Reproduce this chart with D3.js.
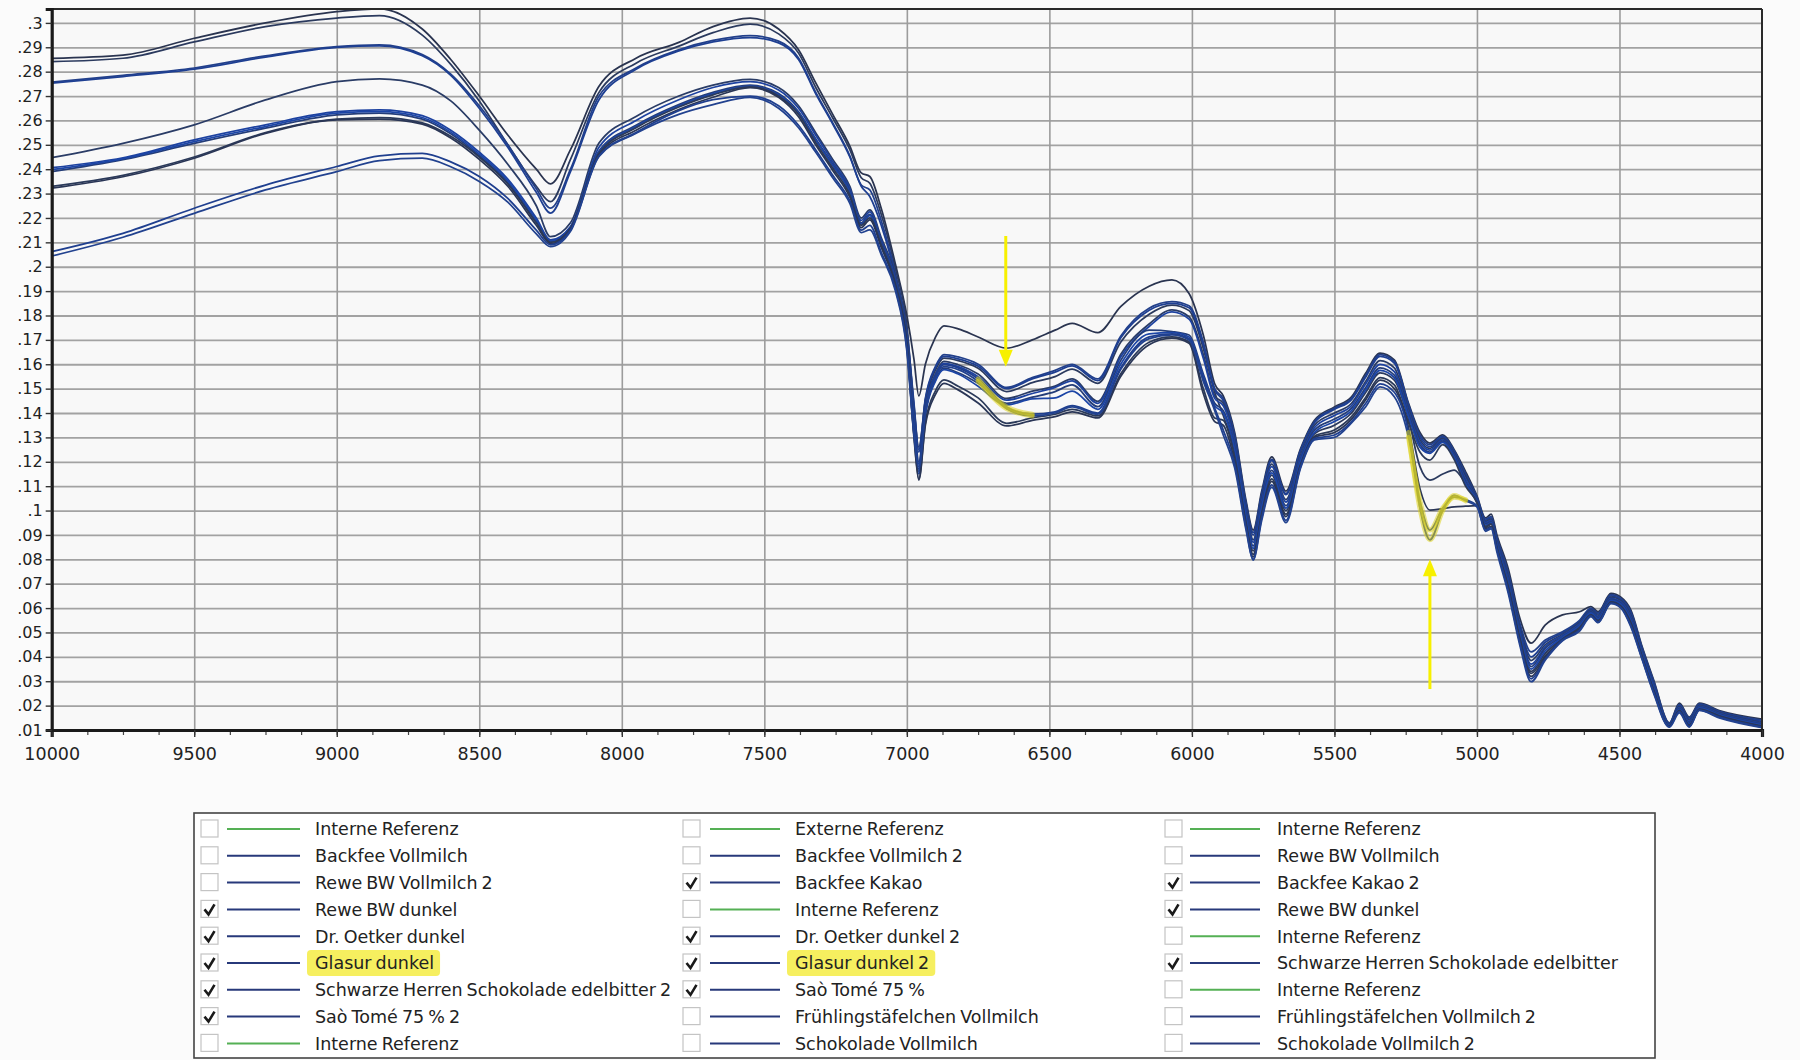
<!DOCTYPE html>
<html><head><meta charset="utf-8">
<script src="https://cdn.jsdelivr.net/npm/d3@7"></script>
<style>
html,body{margin:0;padding:0;background:#fbfbfb;}
svg{display:block;font-family:"DejaVu Sans",Verdana,sans-serif;}
</style></head><body>
<svg id="chart" width="1800" height="1060"></svg>
<script>
// ---------- DATA ----------
const wavenumbers = [10000,9750,9500,9250,9000,8850,8700,8600,8500,8400,8300,8250,8180,8080,
 7950,7800,7680,7550,7450,7380,7320,7260,7200,7160,7130,7090,7040,7000,
 6975,6958,6935,6900,6870,6820,6750,6650,6560,6480,6420,6330,6250,6150,6070,6010,5960,5920,
 5890,5850,5810,5785,5755,5720,5670,5620,5570,5500,5440,5390,5340,5290,5240,
 5200,5165,5120,5080,5040,5000,4970,4950,4930,
 4890,4850,4810,4760,4700,4640,4600,4575,4530,4495,4460,4420,4380,4325,4290,4255,4220,4150,4000];

const backfeeKakao = [.2855,.2868,.2937,.3000,.3046,.3058,.2975,.2850,.2700,.2540,.2400,.2340,.2480,.2740,
 .2855,.2920,.2985,.3020,.2975,.2890,.2755,.2625,.2495,.2385,.2370,.2240,.2010,.1800,
 .1620,.1470,.1600,.1710,.1757,.1745,.1712,.1666,.1700,.1740,.1768,.1730,.1836,.1920,.1946,.1890,.1720,.1520,
 .1470,.1320,.1040,.0920,.1080,.1220,.1080,.1250,.1370,.1425,.1466,.1564,.1646,.1618,.1440,
 .1320,.1277,.1310,.1250,.1160,.1060,.0970,.0985,.0900,
 .0760,.0560,.0456,.0531,.0572,.0585,.0606,.0585,.0660,.0645,.0592,.0440,.0305,.0129,.0210,.0153,.0210,.0180,.0145];

const backfeeKakao2 = [.2841,.2855,.2922,.2985,.3020,.3030,.2950,.2830,.2680,.2500,.2330,.2267,.2440,.2715,
 .2835,.2905,.2960,.2995,.2955,.2876,.2736,.2610,.2480,.2365,.2342,.2215,.1990,.1760,
 .1420,.1260,.1450,.1575,.1625,.1615,.1584,.1488,.1525,.1549,.1580,.1522,.1690,.1805,.1843,.1820,.1665,.1485,
 .1390,.1240,.0965,.0835,.1005,.1145,.1000,.1195,.1315,.1350,.1400,.1485,.1565,.1535,.1375,
 .1180,.1125,.1150,.1166,.1110,.1030,.0930,.0945,.0855,
 .0695,.0490,.0340,.0415,.0476,.0525,.0576,.0552,.0628,.0612,.0545,.0405,.0270,.0118,.0182,.0122,.0188,.0160,.0118];

const schwarzeHerren = [.2757,.2785,.2815,.2865,.2903,.2910,.2870,.2790,.2660,.2500,.2320,.2240,.2400,.2700,
 .2815,.2890,.2928,.2948,.2925,.2856,.2716,.2590,.2455,.2335,.2315,.2190,.1970,.1740,
 .1440,.1250,.1460,.1590,.1640,.1630,.1600,.1505,.1545,.1575,.1600,.1540,.1715,.1830,.1857,.1840,.1690,.1500,
 .1460,.1310,.1030,.0910,.1070,.1210,.1070,.1245,.1365,.1420,.1460,.1555,.1640,.1612,.1435,
 .1310,.1270,.1305,.1245,.1150,.1055,.0965,.0975,.0890,
 .0745,.0540,.0420,.0469,.0503,.0550,.0600,.0580,.0655,.0640,.0585,.0435,.0300,.0127,.0205,.0150,.0207,.0177,.0140];

const schwarzeHerren2 = [.2753,.2780,.2810,.2860,.2900,.2906,.2865,.2785,.2650,.2490,.2305,.2220,.2390,.2685,
 .2810,.2885,.2922,.2940,.2918,.2850,.2710,.2585,.2450,.2330,.2288,.2170,.1960,.1730,
 .1430,.1240,.1455,.1585,.1632,.1622,.1592,.1500,.1540,.1568,.1593,.1533,.1708,.1822,.1850,.1832,.1680,.1495,
 .1450,.1300,.1020,.0900,.1065,.1205,.1065,.1240,.1360,.1415,.1455,.1548,.1632,.1605,.1430,
 .1300,.1262,.1300,.1240,.1145,.1050,.0960,.0970,.0880,
 .0735,.0530,.0400,.0460,.0498,.0545,.0596,.0575,.0650,.0635,.0578,.0430,.0295,.0125,.0200,.0145,.0203,.0174,.0135];

const saoTome = [.2447,.2506,.2582,.2684,.2759,.2770,.2745,.2680,.2560,.2420,.2250,.2123,.2180,.2507,
 .2616,.2700,.2745,.2768,.2735,.2660,.2550,.2440,.2330,.2200,.2233,.2120,.1960,.1720,
 .1400,.1200,.1430,.1560,.1612,.1598,.1560,.1460,.1490,.1510,.1540,.1448,.1640,.1765,.1823,.1795,.1640,.1470,
 .1440,.1290,.1010,.0880,.1050,.1190,.1045,.1225,.1350,.1400,.1440,.1530,.1615,.1585,.1415,
 .1290,.1255,.1295,.1235,.1140,.1048,.0955,.0965,.0875,
 .0725,.0520,.0385,.0450,.0492,.0540,.0592,.0570,.0645,.0630,.0570,.0425,.0290,.0123,.0196,.0140,.0200,.0171,.0130];

const saoTome2 = [.2406,.2447,.2520,.2582,.2636,.2643,.2620,.2560,.2470,.2360,.2200,.2110,.2165,.2490,
 .2600,.2685,.2735,.2759,.2725,.2650,.2540,.2430,.2320,.2190,.2225,.2110,.1950,.1710,
 .1380,.1190,.1420,.1555,.1604,.1590,.1549,.1453,.1480,.1505,.1532,.1440,.1630,.1755,.1815,.1785,.1625,.1460,
 .1430,.1280,.1000,.0870,.1040,.1180,.1035,.1215,.1340,.1390,.1430,.1520,.1600,.1570,.1405,
 .1280,.1248,.1290,.1230,.1130,.1045,.0950,.0960,.0870,
 .0715,.0510,.0370,.0442,.0488,.0535,.0588,.0565,.0640,.0625,.0563,.0420,.0285,.0121,.0192,.0135,.0197,.0168,.0127];

const reweDunkel = [.2390,.2439,.2506,.2568,.2623,.2630,.2605,.2545,.2455,.2345,.2185,.2103,.2160,.2475,
 .2580,.2665,.2715,.2745,.2710,.2635,.2525,.2420,.2310,.2180,.2215,.2100,.1940,.1700,
 .1350,.1160,.1400,.1535,.1584,.1565,.1522,.1440,.1465,.1488,.1515,.1426,.1615,.1740,.1734,.1720,.1560,.1440,
 .1410,.1260,.0985,.0855,.1025,.1165,.1020,.1205,.1330,.1375,.1420,.1505,.1585,.1555,.1395,
 .1270,.1240,.1285,.1225,.1120,.1042,.0945,.0955,.0865,
 .0705,.0500,.0360,.0435,.0483,.0530,.0584,.0560,.0636,.0620,.0556,.0415,.0280,.0120,.0188,.0130,.0194,.0165,.0124];

const reweDunkel2 = [.2398,.2443,.2513,.2575,.2630,.2636,.2612,.2552,.2462,.2352,.2192,.2106,.2162,.2470,
 .2575,.2660,.2710,.2741,.2705,.2630,.2520,.2415,.2305,.2175,.2210,.2095,.1935,.1695,
 .1340,.1150,.1390,.1530,.1578,.1560,.1510,.1433,.1458,.1462,.1490,.1415,.1600,.1725,.1730,.1712,.1550,.1430,
 .1400,.1250,.0975,.0845,.1015,.1155,.1010,.1200,.1320,.1365,.1410,.1495,.1575,.1545,.1385,
 .1260,.1235,.1280,.1220,.1110,.1040,.0940,.0950,.0860,
 .0700,.0495,.0350,.0425,.0480,.0528,.0580,.0556,.0632,.0616,.0550,.0410,.0275,.0119,.0185,.0126,.0191,.0162,.0121];

const oetkerDunkel = [.2330,.2375,.2450,.2550,.2605,.2612,.2590,.2535,.2450,.2340,.2180,.2100,.2158,.2465,
 .2570,.2655,.2705,.2738,.2700,.2625,.2510,.2405,.2295,.2170,.2200,.2090,.1930,.1690,
 .1310,.1130,.1360,.1490,.1536,.1510,.1462,.1358,.1380,.1395,.1415,.1388,.1560,.1690,.1712,.1692,.1500,.1380,
 .1370,.1220,.0950,.0820,.0990,.1130,.0985,.1185,.1305,.1330,.1385,.1465,.1545,.1515,.1360,
 .1240,.1207,.1270,.1210,.1100,.1035,.0935,.0945,.0850,
 .0690,.0480,.0332,.0405,.0473,.0520,.0572,.0548,.0625,.0608,.0540,.0400,.0265,.0116,.0180,.0120,.0186,.0158,.0116];

const oetkerDunkel2 = [.2322,.2369,.2445,.2547,.2602,.2605,.2585,.2528,.2440,.2330,.2170,.2095,.2155,.2460,
 .2560,.2645,.2695,.2735,.2695,.2615,.2500,.2395,.2285,.2160,.2192,.2080,.1920,.1680,
 .1300,.1125,.1350,.1475,.1522,.1495,.1441,.1347,.1370,.1385,.1405,.1380,.1550,.1680,.1707,.1686,.1480,.1365,
 .1350,.1200,.0940,.0810,.0980,.1120,.0975,.1180,.1300,.1320,.1375,.1455,.1535,.1500,.1340,
 .1090,.1002,.1008,.1015,.1018,.1020,.0925,.0935,.0845,
 .0680,.0470,.0320,.0398,.0470,.0515,.0570,.0545,.0622,.0605,.0535,.0395,.0260,.0115,.0178,.0117,.0184,.0156,.0114];

const glasurDunkel = [.2062,.2137,.2240,.2335,.2411,.2455,.2465,.2430,.2370,.2280,.2150,.2090,.2150,.2455,
 .2550,.2640,.2685,.2700,.2660,.2580,.2480,.2375,.2270,.2150,.2170,.2060,.1910,.1665,
 .1320,.1180,.1410,.1550,.1598,.1585,.1540,.1425,.1395,.1405,.1430,.1400,.1585,.1712,.1725,.1705,.1540,.1420,
 .1330,.1190,.0930,.0800,.0970,.1105,.0960,.1175,.1295,.1310,.1365,.1440,.1520,.1485,.1320,
 .1010,.0880,.1000,.1062,.1040,.1015,.0920,.0930,.0840,
 .0670,.0460,.0310,.0392,.0469,.0510,.0568,.0542,.0620,.0602,.0528,.0390,.0255,.0113,.0175,.0114,.0182,.0153,.0112];

const glasurDunkel2 = [.2044,.2121,.2219,.2315,.2390,.2435,.2445,.2410,.2350,.2265,.2135,.2082,.2145,.2452,
 .2547,.2625,.2665,.2695,.2650,.2570,.2470,.2365,.2260,.2140,.2151,.2050,.1900,.1655,
 .1310,.1170,.1400,.1545,.1590,.1578,.1530,.1418,.1388,.1400,.1425,.1395,.1578,.1705,.1720,.1700,.1530,.1410,
 .1310,.1175,.0920,.0797,.0960,.1095,.0950,.1170,.1290,.1300,.1360,.1426,.1507,.1467,.1300,
 .1040,.0920,.1010,.1055,.1045,.1020,.0915,.0925,.0830,
 .0660,.0450,.0298,.0387,.0466,.0505,.0565,.0540,.0618,.0600,.0523,.0387,.0250,.0112,.0170,.0112,.0180,.0150,.0110];

const seriesNames = ["Backfee Kakao","Backfee Kakao 2","Schwarze Herren Schokolade edelbitter",
 "Schwarze Herren Schokolade edelbitter 2","Saò Tomé 75 %","Saò Tomé 75 % 2","Rewe BW dunkel",
 "Rewe BW dunkel (2)","Dr. Oetker dunkel","Dr. Oetker dunkel 2","Glasur dunkel","Glasur dunkel 2"];
const seriesValues = [backfeeKakao, backfeeKakao2, schwarzeHerren, schwarzeHerren2, saoTome, saoTome2,
 reweDunkel, reweDunkel2, oetkerDunkel, oetkerDunkel2, glasurDunkel, glasurDunkel2];
const highlightedSeries = ["Glasur dunkel","Glasur dunkel 2"];
const highlightRanges = [[6790, 6505], [5255, 5035]];

const xTickValues = [10000,9500,9000,8500,8000,7500,7000,6500,6000,5500,5000,4500,4000];
const xTickLabels = ["10000","9500","9000","8500","8000","7500","7000","6500","6000","5500","5000","4500","4000"];
const yTickValues = [.01,.02,.03,.04,.05,.06,.07,.08,.09,.10,.11,.12,.13,.14,.15,.16,.17,.18,.19,.20,.21,.22,.23,.24,.25,.26,.27,.28,.29,.30];
const yTickLabels = [".01",".02",".03",".04",".05",".06",".07",".08",".09",".1",".11",".12",".13",".14",".15",".16",".17",".18",".19",".2",".21",".22",".23",".24",".25",".26",".27",".28",".29",".3"];

// annotations (arrows): wavenumber, start value, tip value
const arrowWn = [6653, 5165];
const arrowFrom = [.2126, .0268];
const arrowTo = [.1590, .0800];

// legend (3 columns x 9 rows)
const legendCol1 = ["Interne Referenz","Backfee Vollmilch","Rewe BW Vollmilch 2","Rewe BW dunkel","Dr. Oetker dunkel","Glasur dunkel","Schwarze Herren Schokolade edelbitter 2","Saò Tomé 75 % 2","Interne Referenz"];
const legendCol2 = ["Externe Referenz","Backfee Vollmilch 2","Backfee Kakao","Interne Referenz","Dr. Oetker dunkel 2","Glasur dunkel 2","Saò Tomé 75 %","Frühlingstäfelchen Vollmilch","Schokolade Vollmilch"];
const legendCol3 = ["Interne Referenz","Rewe BW Vollmilch","Backfee Kakao 2","Rewe BW dunkel","Interne Referenz","Schwarze Herren Schokolade edelbitter","Interne Referenz","Frühlingstäfelchen Vollmilch 2","Schokolade Vollmilch 2"];
const legendChecked1 = [0,0,0,1,1,1,1,1,0];
const legendChecked2 = [0,0,1,0,1,1,1,0,0];
const legendChecked3 = [0,0,1,1,0,1,0,0,0];

// ---------- STYLE / LAYOUT ----------
const seriesColors = ["#2a3450","#2b3a5e","#23408a","#1e3f92","#2a3c66","#1d42a0","#243d78","#1c45a6","#2b3a5a","#2a3656","#1f3f8f","#22428f"];
const plot = {left: 51.7, right: 1762, top: 9, bottom: 730};
const svg = d3.select("#chart");

const x = d3.scaleLinear().domain([10000, 4000]).range([plot.left, plot.right]);
const y = d3.scaleLinear().domain([0.01, 0.3057]).range([plot.bottom, plot.top]);

svg.append("rect").attr("x", plot.left).attr("y", plot.top)
  .attr("width", plot.right - plot.left).attr("height", plot.bottom - plot.top)
  .attr("fill", "#f8f8f8");

svg.append("clipPath").attr("id", "clip").append("rect")
  .attr("x", plot.left).attr("y", plot.top)
  .attr("width", plot.right - plot.left).attr("height", plot.bottom - plot.top);

// grid via axes
const gridY = svg.append("g").attr("transform", `translate(${plot.left},0)`)
  .call(d3.axisLeft(y).tickValues(yTickValues.slice(1)).tickSize(-(plot.right - plot.left)).tickFormat(""));
gridY.select(".domain").remove();
gridY.selectAll("line").attr("stroke", "#a2a2a2").attr("stroke-width", 1.8);

const gridX = svg.append("g").attr("transform", `translate(0,${plot.bottom})`)
  .call(d3.axisBottom(x).tickValues(xTickValues.slice(1, -1)).tickSize(-(plot.bottom - plot.top)).tickFormat(""));
gridX.select(".domain").remove();
gridX.selectAll("line").attr("stroke", "#9c9c9c").attr("stroke-width", 1.6);

// series
const line = d3.line().x(d => x(d[0])).y(d => y(d[1])).curve(d3.curveMonotoneX);
const seriesData = seriesNames.map((name, i) => ({
  name, color: seriesColors[i],
  points: wavenumbers.map((w, j) => [w, seriesValues[i][j]])
}));
const gLines = svg.append("g").attr("clip-path", "url(#clip)");
gLines.selectAll("path.series").data(seriesData).join("path")
  .attr("class", "series")
  .attr("d", d => line(d.points))
  .attr("fill", "none")
  .attr("stroke", d => d.color)
  .attr("stroke-width", 1.75)
  .attr("stroke-linejoin", "round");

// highlighter on Glasur series
const hl = [];
seriesData.filter(s => highlightedSeries.includes(s.name)).forEach(s => {
  highlightRanges.forEach(r => {
    hl.push(s.points.filter(p => p[0] <= r[0] && p[0] >= r[1]));
  });
});
gLines.selectAll("path.hl").data(hl).join("path")
  .attr("class", "hl").attr("d", d => line(d))
  .attr("fill", "none").attr("stroke", "#ddd21a").attr("stroke-opacity", 0.55)
  .attr("stroke-width", 5).attr("stroke-linecap", "round");

// arrows
const gArr = svg.append("g");
arrowWn.forEach((w, i) => {
  const ax = x(w), y0 = y(arrowFrom[i]), y1 = y(arrowTo[i]);
  const dir = y1 > y0 ? 1 : -1;
  gArr.append("line").attr("x1", ax).attr("x2", ax).attr("y1", y0).attr("y2", y1 - dir * 12)
    .attr("stroke", "#f7f000").attr("stroke-width", 3);
  gArr.append("path")
    .attr("d", `M${ax - 7},${y1 - dir * 17} L${ax + 7},${y1 - dir * 17} L${ax},${y1} Z`)
    .attr("fill", "#f7f000");
});

// border (top/right)
svg.append("line").attr("x1", plot.left).attr("x2", plot.right).attr("y1", plot.top).attr("y2", plot.top)
  .attr("stroke", "#2a2a2a").attr("stroke-width", 2);
svg.append("line").attr("x1", plot.right).attr("x2", plot.right).attr("y1", plot.top).attr("y2", plot.bottom)
  .attr("stroke", "#2a2a2a").attr("stroke-width", 2);

// axes
const xMinor = d3.range(10000, 3999, -125);
const xMinorAxis = svg.append("g").attr("transform", `translate(0,${plot.bottom})`)
  .call(d3.axisBottom(x).tickValues(xMinor).tickSize(5).tickFormat(""));
xMinorAxis.select(".domain").remove();
xMinorAxis.selectAll("line").attr("stroke", "#444").attr("stroke-width", 1.2);

const xAxis = svg.append("g").attr("transform", `translate(0,${plot.bottom})`)
  .call(d3.axisBottom(x).tickValues(xTickValues).tickSize(7).tickFormat((d, i) => xTickLabels[i]));
xAxis.select(".domain").attr("stroke", "#1a1a1a").attr("stroke-width", 3.2);
xAxis.selectAll("line").attr("stroke", "#333").attr("stroke-width", 1.4);
xAxis.selectAll("text").attr("dy", null).attr("y", 30)
  .attr("font-size", 17.5).attr("fill", "#222").attr("font-family", "DejaVu Sans, Verdana, sans-serif");

const yAxis = svg.append("g").attr("transform", `translate(${plot.left},0)`)
  .call(d3.axisLeft(y).tickValues(yTickValues).tickSize(6).tickPadding(3).tickFormat((d, i) => yTickLabels[i]));
yAxis.select(".domain").attr("stroke", "#1a1a1a").attr("stroke-width", 3.2);
yAxis.selectAll("line").attr("stroke", "#333").attr("stroke-width", 1.4);
yAxis.selectAll("text").attr("font-size", 16).attr("fill", "#222")
  .attr("font-family", "DejaVu Sans, Verdana, sans-serif");

// ---------- LEGEND ----------
const lg = svg.append("g");
lg.append("rect").attr("x", 194).attr("y", 813).attr("width", 1461).attr("height", 245)
  .attr("fill", "#ffffff").attr("stroke", "#444").attr("stroke-width", 1.6);

const legendCols = [
  {labels: legendCol1, checked: legendChecked1, box: 201, l1: 227, l2: 300, tx: 315},
  {labels: legendCol2, checked: legendChecked2, box: 683, l1: 710, l2: 780, tx: 795},
  {labels: legendCol3, checked: legendChecked3, box: 1165, l1: 1190, l2: 1260, tx: 1277}
];
const rowY = i => 829 + i * 26.8;
legendCols.forEach(col => {
  col.labels.forEach((lab, i) => {
    const cy = rowY(i);
    const isRef = /Referenz/.test(lab);
    let hlRect = null;
    if (/^Glasur/.test(lab)) {
      hlRect = lg.append("rect").attr("y", cy - 13).attr("height", 26)
        .attr("rx", 4).attr("fill", "#f3ea2a").attr("opacity", 0.75);
    }
    lg.append("rect").attr("x", col.box).attr("y", cy - 9).attr("width", 17).attr("height", 17)
      .attr("fill", "#fff").attr("stroke", "#c4c4c4").attr("stroke-width", 1.2);
    if (col.checked[i]) {
      lg.append("path").attr("d", `M${col.box + 3.5},${cy} L${col.box + 7.5},${cy + 5} L${col.box + 13.5},${cy - 5}`)
        .attr("fill", "none").attr("stroke", "#1a1a1a").attr("stroke-width", 2.6);
    }
    lg.append("line").attr("x1", col.l1).attr("x2", col.l2).attr("y1", cy).attr("y2", cy)
      .attr("stroke", isRef ? "#55b055" : "#27397a").attr("stroke-width", 2);
    const t = lg.append("text").attr("x", col.tx).attr("y", cy).attr("dy", "0.36em")
      .attr("font-size", 17.5).attr("word-spacing", -1.5).attr("fill", "#222").text(lab);
    if (hlRect) {
      const w = t.node().getComputedTextLength();
      hlRect.attr("x", col.tx - 8).attr("width", w + 14);
    }
  });
});
</script>
</body></html>
